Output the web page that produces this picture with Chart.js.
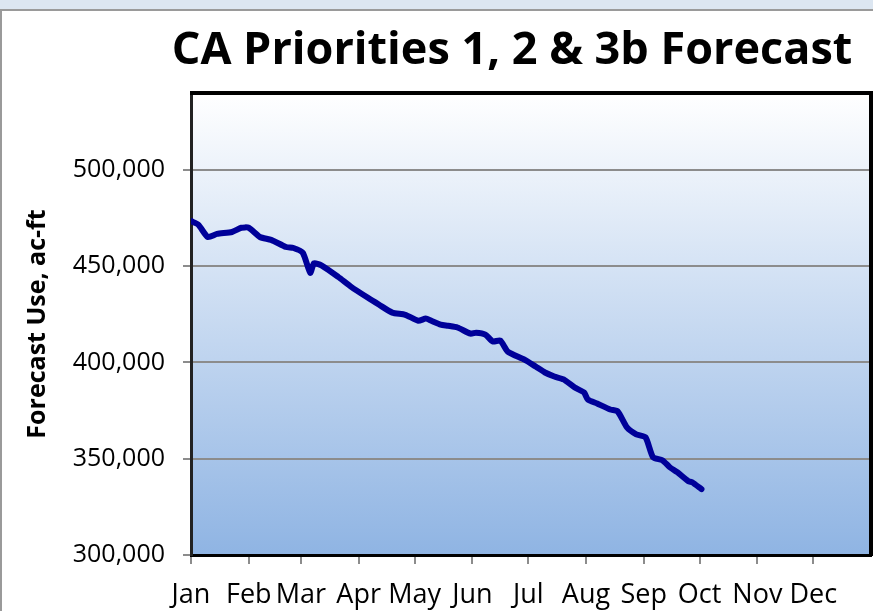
<!DOCTYPE html>
<html>
<head>
<meta charset="utf-8">
<script src="https://cdn.jsdelivr.net/npm/chart.js@4.4.0/dist/chart.umd.min.js"></script>
<style>
  body { margin: 0; background: #dce6f1; overflow: hidden; }
  #frame { position: absolute; left: 0; top: 9px; width: 900px; height: 620px; background: #fff; border-left: 2px solid #9a9a9a; border-top: 2px solid #9a9a9a; }
  #c { position: absolute; left: 0; top: 0; }
</style>
</head>
<body>
<div id="frame"></div>
<canvas id="c" width="873" height="611"></canvas>
<script>
// day of year (0 = Jan 1) and forecast use, ac-ft
const days = [0, 4, 9, 14, 22, 27, 31, 37, 43, 51, 55, 60, 64, 66, 70, 79, 86, 95, 101, 108, 115, 122, 126, 129, 134, 138, 143, 150, 153, 158, 162, 166, 170, 179, 185, 190, 195, 200, 206, 211, 213, 218, 225, 229, 234, 239, 244, 248, 253, 257, 261, 267, 269, 274];
const use = [473500, 471500, 465200, 466800, 467800, 470000, 470000, 465200, 463700, 460000, 459500, 457000, 446600, 451500, 450500, 444500, 439300, 433600, 430000, 425900, 424800, 421700, 422800, 421700, 419700, 419100, 418200, 415000, 415500, 414500, 410900, 411400, 405700, 401500, 397900, 394800, 392700, 391200, 387000, 384400, 380800, 378700, 375600, 374600, 366300, 362700, 361100, 350800, 349200, 345600, 343000, 338300, 337800, 334200];

const months = ['Jan', 'Feb', 'Mar', 'Apr', 'May', 'Jun', 'Jul', 'Aug', 'Sep', 'Oct', 'Nov', 'Dec'];
const monthStarts = [0, 31, 59, 90, 120, 151, 181, 212, 243, 273, 304, 334];
const yTicks = [300000, 350000, 400000, 450000, 500000];
const chartTitle = 'CA Priorities 1, 2 & 3b Forecast';

const fontFam = '"Open Sans", "Noto Sans", sans-serif';

// gradient behind the plot, black frame on top and right, title
const plotBg = {
  id: 'plotBg',
  beforeDraw(chart) {
    const { ctx, chartArea: a } = chart;
    const g = ctx.createLinearGradient(0, a.top, 0, a.bottom);
    g.addColorStop(0, '#ffffff');
    g.addColorStop(1, '#8fb4e3');
    ctx.save();
    ctx.fillStyle = g;
    ctx.fillRect(a.left, a.top, a.right - a.left, a.bottom - a.top);
    ctx.restore();
  },
  afterDraw(chart) {
    const { ctx, chartArea: a } = chart;
    ctx.save();
    ctx.strokeStyle = '#000';
    ctx.lineWidth = 4;
    ctx.beginPath();
    ctx.moveTo(a.left - 1, a.top);
    ctx.lineTo(a.right, a.top);
    ctx.lineTo(a.right, a.bottom + 1);
    ctx.stroke();

    ctx.fillStyle = '#000';
    ctx.font = 'bold 45px ' + fontFam;
    ctx.textAlign = 'center';
    ctx.textBaseline = 'middle';
    ctx.fillText(chartTitle, 512, 51);
    ctx.restore();
  }
};

new Chart(document.getElementById('c'), {
  type: 'line',
  data: {
    datasets: [{
      data: days.map((d, i) => ({ x: d, y: use[i] })),
      borderColor: '#000099',
      borderWidth: 6,
      pointRadius: 0,
      tension: 0.2,
      borderCapStyle: 'round',
      borderJoinStyle: 'round',
      fill: false
    }]
  },
  options: {
    responsive: false,
    animation: false,
    layout: { padding: { left: 0, right: 2, top: 93, bottom: 0 } },
    plugins: {
      legend: { display: false },
      tooltip: { enabled: false },
      title: { display: false }
    },
    scales: {
      x: {
        type: 'linear',
        min: 0,
        max: 365,
        afterBuildTicks: s => { s.ticks = monthStarts.map(v => ({ value: v })); },
        afterFit: s => { s.height = 56; },
        ticks: {
          autoSkip: false,
          maxRotation: 0,
          color: '#000',
          padding: 15,
          font: { family: fontFam, size: 27 },
          callback: v => months[monthStarts.indexOf(v)]
        },
        grid: { drawOnChartArea: false, drawTicks: true, tickLength: 9, color: '#8c8c8c', lineWidth: 2 },
        border: { display: true, color: '#000', width: 3 }
      },
      y: {
        min: 300000,
        max: 540000,
        afterBuildTicks: s => { s.ticks = yTicks.map(v => ({ value: v })); },
        afterFit: s => { s.width = 191; },
        ticks: {
          color: '#000',
          padding: 18,
          font: { family: fontFam, size: 25 },
          callback: v => v.toLocaleString('en-US')
        },
        grid: { color: '#8c8c8c', lineWidth: 2, tickLength: 8 },
        border: { display: true, color: '#222', width: 3 },
        title: {
          display: true,
          text: 'Forecast Use, ac-ft',
          color: '#000',
          font: { family: fontFam, size: 25, weight: 'bold' },
          padding: { top: 23, bottom: 0 }
        }
      }
    }
  },
  plugins: [plotBg]
});
</script>
</body>
</html>
